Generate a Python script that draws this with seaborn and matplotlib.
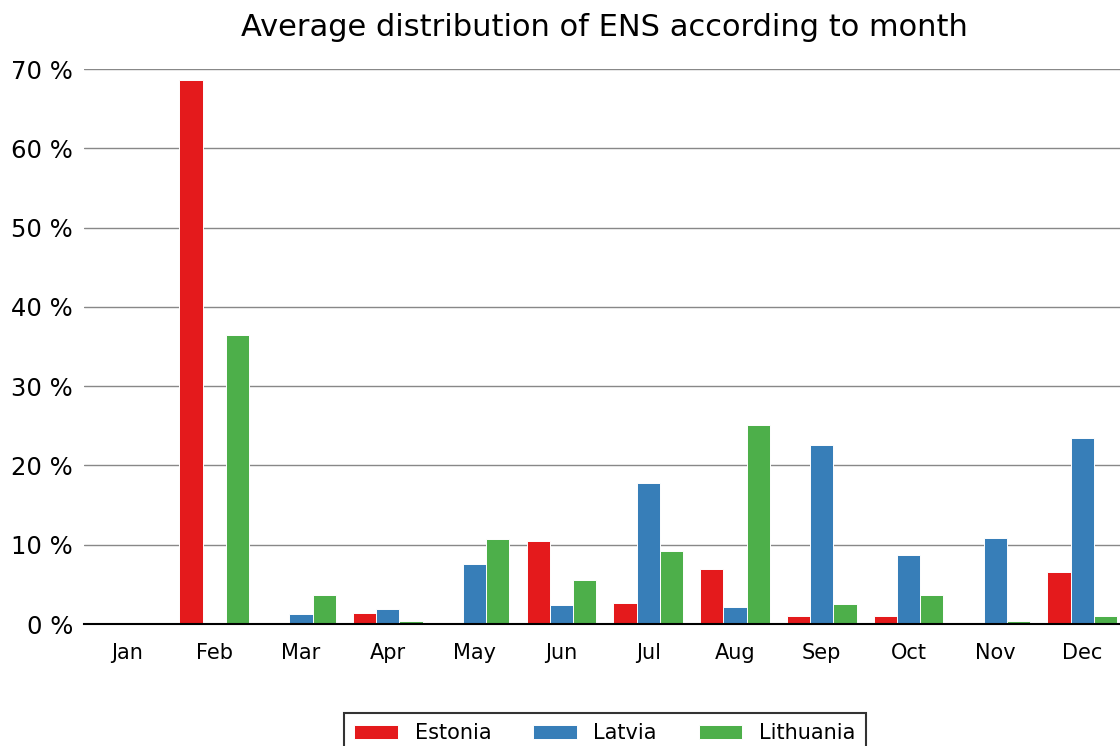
"""
Average distribution of ENS per month for the three Baltic states.
Grouped bar chart, written to out.png.
"""

import numpy as np
import pandas as pd
import matplotlib
matplotlib.use("Agg")
import matplotlib.pyplot as plt
from matplotlib.ticker import FixedLocator, FuncFormatter
import seaborn as sns

months = ["Jan", "Feb", "Mar", "Apr", "May", "Jun",
          "Jul", "Aug", "Sep", "Oct", "Nov", "Dec"]
countries = ["Estonia", "Latvia", "Lithuania"]

# share of yearly ENS, percent
estonia = [0.0, 68.6, 0.0, 1.4, 0.0, 10.5, 2.7, 6.9, 1.05, 1.05, 0.0, 6.6]
latvia = [0.0, 0.0, 1.3, 1.9, 7.6, 2.4, 17.8, 2.1, 22.6, 8.7, 10.8, 23.5]
lithuania = [0.0, 36.4, 3.7, 0.35, 10.7, 5.5, 9.2, 25.1, 2.5, 3.7, 0.4, 1.05]

colors = ["#e41a1c", "#377eb8", "#4daf4a"]


def main():
    df = pd.DataFrame({
        "month": months * 3,
        "country": np.repeat(countries, len(months)),
        "share": estonia + latvia + lithuania,
    })

    sns.set_style("white")
    plt.rcParams["font.family"] = ["DejaVu Sans"]
    plt.rcParams["text.color"] = "black"
    plt.rcParams["xtick.color"] = "black"
    plt.rcParams["ytick.color"] = "black"

    fig = plt.figure(figsize=(11.2, 7.46), dpi=100)
    ax = fig.add_axes([0.075, 0.1635, 0.93, 0.744])

    sns.barplot(
        data=df, x="month", y="share", hue="country",
        order=months, hue_order=countries, palette=colors,
        width=0.8, edgecolor="white", linewidth=0.7,
        saturation=1.0, ax=ax, legend=True,
    )

    ax.set_ylim(0, 70)
    ax.set_xlim(-0.5, len(months) - 0.5)
    ax.yaxis.set_major_locator(FixedLocator(np.arange(0, 71, 10)))
    ax.yaxis.set_major_formatter(FuncFormatter(lambda v, _: f"{v:.0f} %"))
    ax.yaxis.grid(True, color="#888888", linewidth=1.0)
    ax.set_axisbelow(True)
    ax.tick_params(axis="y", length=0, pad=8, labelsize=17.5)

    # month boundaries get the tick marks, labels sit in between
    ax.xaxis.set_major_locator(FixedLocator(np.arange(-0.5, len(months), 1)))
    ax.xaxis.set_major_formatter(FuncFormatter(lambda v, _: ""))
    ax.xaxis.set_minor_locator(FixedLocator(np.arange(len(months))))
    ax.set_xticklabels(months, minor=True)
    ax.tick_params(axis="x", which="major", length=8, width=1.0,
                   color="black", direction="out")
    ax.tick_params(axis="x", which="minor", length=0, pad=14, labelsize=15)

    for side in ["top", "right", "left"]:
        ax.spines[side].set_visible(False)
    ax.spines["bottom"].set_color("black")
    ax.spines["bottom"].set_linewidth(1.5)

    ax.set_xlabel("")
    ax.set_ylabel("")
    ax.set_title("Average distribution of ENS according to month",
                 fontsize=22, pad=24)

    handles, labels = ax.get_legend_handles_labels()
    ax.get_legend().remove()
    leg = fig.legend(
        handles, labels, loc="upper center", ncol=3,
        bbox_to_anchor=(0.54, 0.0445), fontsize=15, frameon=True,
        fancybox=False, edgecolor="black", handlelength=2.1,
        handleheight=0.7, handletextpad=0.8, columnspacing=2.0,
        borderpad=0.5, borderaxespad=0,
    )
    leg.get_frame().set_linewidth(1.5)

    fig.savefig("out.png", dpi=100)
    plt.close(fig)


if __name__ == "__main__":
    main()
